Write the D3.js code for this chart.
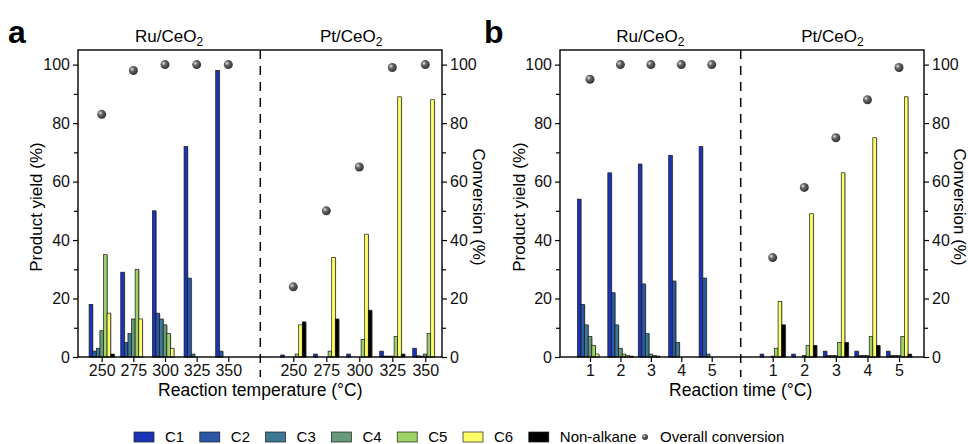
<!DOCTYPE html>
<html>
<head>
<meta charset="utf-8">
<script src="https://cdn.jsdelivr.net/npm/d3@7"></script>
<style>
  body { margin: 0; background: #fff; }
  svg { font-family: "Liberation Sans", Arial, sans-serif; }
</style>
</head>
<body>
<svg width="968" height="444"></svg>
<script>
// series + categories
const seriesNames = ["C1", "C2", "C3", "C4", "C5", "C6", "Non-alkane"];
const tempLabels = ["250", "275", "300", "325", "350"];
const timeLabels = ["1", "2", "3", "4", "5"];

// panel a: yields per temperature (C1..C6, non-alkane)
const aRuYield = [
  [18, 2, 3, 9, 35, 15, 1],
  [29, 5, 8, 13, 30, 13, 0],
  [50, 15, 13, 11, 8, 3, 0],
  [72, 27, 1, 0, 0, 0, 0],
  [98, 2, 0, 0, 0, 0, 0]
];
const aPtYield = [
  [0.7, 0, 0, 0, 1, 11, 12],
  [1, 0, 0, 0, 2, 34, 13],
  [1, 0, 0, 0, 6, 42, 16],
  [2, 0.3, 0.3, 0.3, 7, 89, 1],
  [3, 0.4, 0.3, 1, 8, 88, 0]
];
const aRuConv = [83, 98, 100, 100, 100];
const aPtConv = [24, 50, 65, 99, 100];

// panel b: yields per reaction time
const bRuYield = [
  [54, 18, 11, 7, 4, 1, 0],
  [63, 22, 11, 3, 1, 0.5, 0.3],
  [66, 25, 8, 1, 0.5, 0.3, 0],
  [69, 26, 5, 0, 0, 0, 0],
  [72, 27, 1, 0, 0, 0, 0]
];
const bPtYield = [
  [1, 0, 0, 0.3, 3, 19, 11],
  [1, 0, 0, 0.5, 4, 49, 4],
  [2, 0.5, 0.5, 0.5, 5, 63, 5],
  [2, 0.5, 0.5, 0.5, 7, 75, 4],
  [2, 0.5, 0.5, 0.5, 7, 89, 1]
];
const bRuConv = [95, 100, 100, 100, 100];
const bPtConv = [34, 58, 75, 88, 99];

const colors = ["#1b34b8", "#2b58a6", "#3e7892", "#67997a", "#9dd266", "#ffff66", "#000000"];

const svg = d3.select("svg");

// shiny sphere for conversion dots
const defs = svg.append("defs");
const grad = defs.append("radialGradient").attr("id", "ball")
    .attr("cx", "35%").attr("cy", "35%").attr("r", "65%");
grad.append("stop").attr("offset", "0%").attr("stop-color", "#e0e0e0");
grad.append("stop").attr("offset", "40%").attr("stop-color", "#666");
grad.append("stop").attr("offset", "100%").attr("stop-color", "#333");

const y = d3.scaleLinear().domain([0, 105]).range([357, 50]);

function drawPanel(p) {
  const g = svg.append("g");
  // piecewise x: Ru categories 0..4, divider 5, Pt categories 6..10
  const x = d3.scaleLinear().domain([0, 4, 5, 6, 10]).range(p.xr);
  const left = p.frame[0], right = p.frame[1];
  const step = 3.6;

  const groups = [];
  p.ru.forEach((vals, i) => groups.push({ idx: i, vals: vals }));
  p.pt.forEach((vals, i) => groups.push({ idx: i + 6, vals: vals }));

  // bars
  groups.forEach(grp => {
    grp.vals.forEach((v, k) => {
      if (v <= 0) return;
      const bx = x(grp.idx) + (k - 3) * step - step / 2;
      g.append("rect")
        .attr("x", bx + 0.9).attr("y", y(v) + 0.6)
        .attr("width", step).attr("height", y(0) - y(v))
        .attr("fill", "#b5b5b5");
      g.append("rect")
        .attr("x", bx).attr("y", y(v))
        .attr("width", step).attr("height", y(0) - y(v))
        .attr("fill", colors[k])
        .attr("stroke", "#1a1a1a").attr("stroke-width", 0.7);
    });
  });

  // conversion dots
  const conv = p.ruConv.map((c, i) => ({ idx: i, c: c }))
    .concat(p.ptConv.map((c, i) => ({ idx: i + 6, c: c })));
  g.selectAll("circle.conv").data(conv).enter().append("circle")
    .attr("class", "conv")
    .attr("cx", d => x(d.idx)).attr("cy", d => y(d.c))
    .attr("r", 4.5).attr("fill", "url(#ball)");

  // frame
  g.append("rect").attr("x", left).attr("y", y(105))
    .attr("width", right - left).attr("height", y(0) - y(105))
    .attr("fill", "none").attr("stroke", "#000").attr("stroke-width", 1.4);

  // divider
  g.append("line").attr("x1", x(5)).attr("x2", x(5))
    .attr("y1", y(105)).attr("y2", 377)
    .attr("stroke", "#000").attr("stroke-width", 1.5)
    .attr("stroke-dasharray", "9,7");

  // y axes
  const major = [0, 20, 40, 60, 80, 100];
  const minor = [10, 30, 50, 70, 90];
  g.append("g").attr("transform", `translate(${left},0)`)
    .call(d3.axisLeft(y).tickValues(major).tickSize(5).tickPadding(3));
  g.append("g").attr("transform", `translate(${left},0)`)
    .call(d3.axisLeft(y).tickValues(minor).tickSize(4).tickFormat(""));
  g.append("g").attr("transform", `translate(${right},0)`)
    .call(d3.axisRight(y).tickValues(major).tickSize(5).tickPadding(3));
  g.append("g").attr("transform", `translate(${right},0)`)
    .call(d3.axisRight(y).tickValues(minor).tickSize(4).tickFormat(""));

  // x axis ticks + labels
  const xt = groups.map(d => d.idx);
  g.append("g").attr("transform", `translate(0,${y(0)})`)
    .call(d3.axisBottom(x).tickValues(xt).tickSize(5).tickPadding(3)
      .tickFormat(d => p.cats[d < 5 ? d : d - 6]));

  g.selectAll(".domain").remove();
  g.selectAll(".tick line").attr("stroke", "#000").attr("stroke-width", 1.2);
  g.selectAll(".tick text").attr("font-size", 16).attr("fill", "#111");

  // panel letter
  g.append("text").attr("x", p.letterX).attr("y", 43)
    .attr("font-size", 32).attr("font-weight", "bold").text(p.letter);

  // catalyst titles
  [["Ru/CeO", (left + x(5)) / 2], ["Pt/CeO", (x(5) + right) / 2]].forEach(t => {
    const tx = g.append("text").attr("x", t[1]).attr("y", 42)
      .attr("text-anchor", "middle").attr("font-size", 17);
    tx.append("tspan").text(t[0]);
    tx.append("tspan").attr("font-size", 12).attr("dy", 4).text("2");
  });

  // axis titles
  g.append("text")
    .attr("transform", `translate(${p.ylabX},207) rotate(-90)`)
    .attr("text-anchor", "middle").attr("dy", "0.35em")
    .attr("font-size", 17).text("Product yield (%)");
  g.append("text")
    .attr("transform", `translate(${p.y2labX},207) rotate(90)`)
    .attr("text-anchor", "middle").attr("dy", "0.35em")
    .attr("font-size", 17).text("Conversion (%)");
  g.append("text").attr("x", x(5)).attr("y", 396)
    .attr("text-anchor", "middle").attr("font-size", 17.5).text(p.xTitle);
}

drawPanel({
  ru: aRuYield, pt: aPtYield, ruConv: aRuConv, ptConv: aPtConv,
  cats: tempLabels, xr: [101.7, 228.3, 260.3, 293.3, 425.3], frame: [78, 442],
  letter: "a", letterX: 8, ylabX: 36, y2labX: 479, xTitle: "Reaction temperature (°C)"
});
drawPanel({
  ru: bRuYield, pt: bPtYield, ruConv: bRuConv, ptConv: bPtConv,
  cats: timeLabels, xr: [590, 711.7, 740.7, 772.7, 899], frame: [560, 924],
  letter: "b", letterX: 484, ylabX: 519, y2labX: 960, xTitle: "Reaction time (°C)"
});

// legend
const leg = svg.append("g");
seriesNames.forEach((s, i) => {
  const lx = 134 + i * 65.8;
  leg.append("rect").attr("x", lx).attr("y", 432).attr("width", 20).attr("height", 10)
    .attr("fill", colors[i]).attr("stroke", "#1a1a1a").attr("stroke-width", 0.7);
  leg.append("text").attr("x", lx + 31).attr("y", 442).attr("font-size", 15).text(s);
});
leg.append("circle").attr("cx", 645).attr("cy", 437).attr("r", 3).attr("fill", "url(#ball)");
leg.append("text").attr("x", 660).attr("y", 442).attr("font-size", 15).text("Overall conversion");
</script>
</body>
</html>
